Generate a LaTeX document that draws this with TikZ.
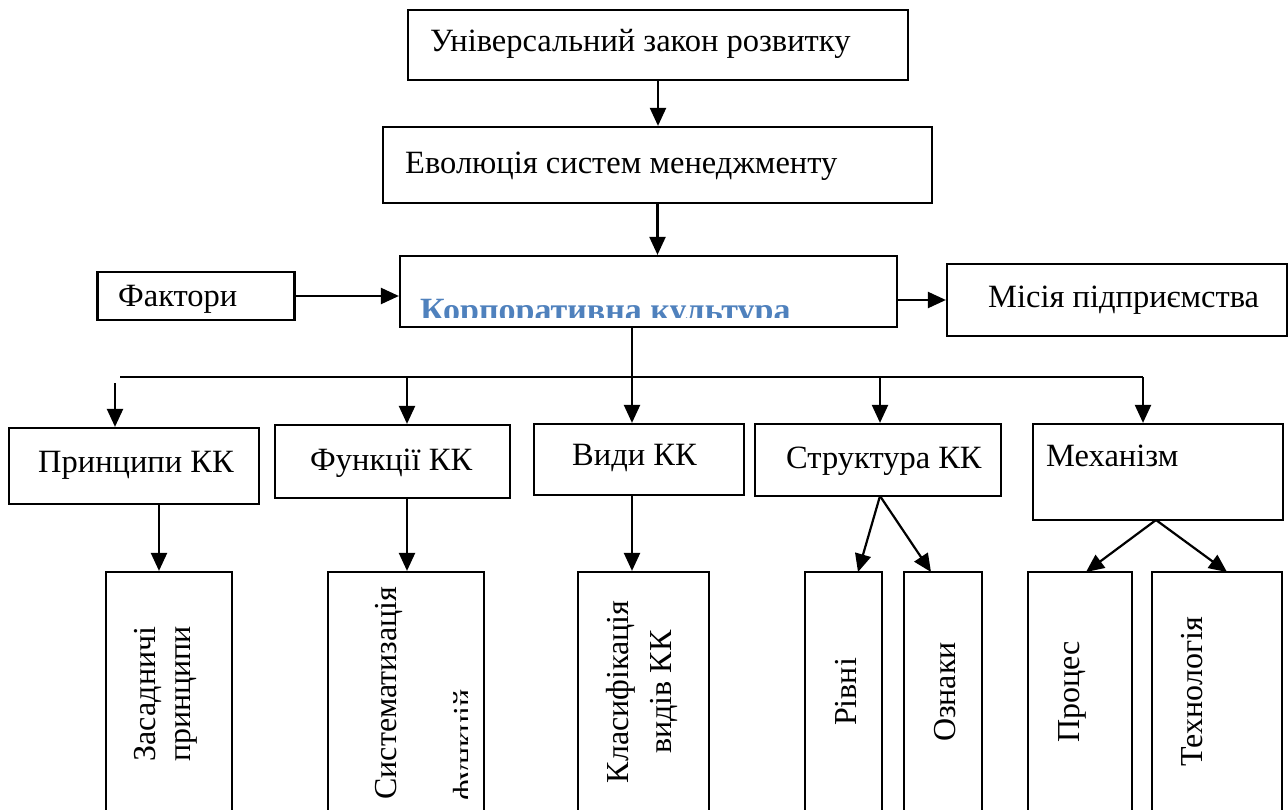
\documentclass[tikz,border=0pt]{standalone}
\usepackage{fontspec}
\setmainfont{Liberation Serif}
\usetikzlibrary{arrows.meta}
\definecolor{kkblue}{HTML}{4F81BD}
\tikzset{
  frame/.style={draw, line width=2.2pt, inner sep=0pt},
  lbl/.style={font=\fontsize{32.5}{38}\selectfont, inner sep=0pt, anchor=base west},
  vlbl/.style={font=\fontsize{32}{38}\selectfont, inner sep=0pt, rotate=90, anchor=base},
  arr/.style={line width=2.2pt, -{Triangle[length=18pt,width=16pt]}},
  wire/.style={line width=2.2pt},
}
\begin{document}
\begin{tikzpicture}[x=1pt,y=-1pt]
\useasboundingbox (0,0) rectangle (1288,810);
\clip (0,0) rectangle (1288,810);

% upper chain
\node[frame, minimum width=500pt, minimum height=70pt] (univ) at (658,45) {};
\node[frame, minimum width=549pt, minimum height=76pt] (evol) at (657.5,165) {};
\node[frame, minimum width=497pt, minimum height=71pt] (kk) at (648.5,291.5) {};
\node[frame, minimum width=197pt, minimum height=48pt] (fakt) at (196,296) {};
\node[frame, minimum width=340pt, minimum height=72pt] (misia) at (1117,300) {};

\node[lbl] (tuniv) at (430,52) {Універсальний закон розвитку};
\node[lbl] (tevol) at (405,174) {Еволюція систем менеджменту};
\node[lbl] (tfakt) at (118,307) {Фактори};
\node[lbl] (tmisia) at (988,308) {Місія підприємства};
\begin{scope}
  \clip (400,256) rectangle (897,318);
  \node[inner sep=0pt, anchor=base west, text=kkblue,
        font=\fontsize{34}{40}\selectfont\bfseries] (tkk) at (420,322) {Корпоративна культура};
\end{scope}

% second row
\node[frame, minimum width=250pt, minimum height=76pt] (prin) at (134,466) {};
\node[frame, minimum width=235pt, minimum height=73pt] (funk) at (392.5,461.5) {};
\node[frame, minimum width=210pt, minimum height=71pt] (vydy) at (639,459.5) {};
\node[frame, minimum width=246pt, minimum height=72pt] (strk) at (878,460) {};
\node[frame, minimum width=250pt, minimum height=96pt] (mech) at (1158,472) {};

\node[lbl] (tprin) at (38,472) {Принципи КК};
\node[lbl] (tfunk) at (310,470) {Функції КК};
\node[lbl] (tvydy) at (572,465) {Види КК};
\node[lbl] (tstrk) at (786,468) {Структура КК};
\node[lbl] (tmech) at (1046,466) {Механізм};

% bottom row (tall boxes running off the page)
\node[frame, minimum width=126pt, minimum height=268pt] (zas) at (169,706) {};
\node[frame, minimum width=156pt, minimum height=268pt] (sys) at (406,706) {};
\node[frame, minimum width=131pt, minimum height=268pt] (klas) at (643.5,706) {};
\node[frame, minimum width=77pt, minimum height=268pt] (rivn) at (843.5,706) {};
\node[frame, minimum width=78pt, minimum height=268pt] (ozn) at (943,706) {};
\node[frame, minimum width=104pt, minimum height=268pt] (proc) at (1080,706) {};
\node[frame, minimum width=130pt, minimum height=268pt] (tech) at (1217,706) {};

\node[vlbl] (tzas1) at (155,694) {Засадничі};
\node[vlbl] (tzas2) at (190,694) {принципи};
\node[vlbl] (tsys1) at (396,693) {Систематизація};
\begin{scope}
  \clip (330,574) rectangle (467,810);
  \node[vlbl, anchor=base west] (tsys2) at (475,801) {функцій};
\end{scope}
\node[vlbl] (tklas1) at (628,692) {Класифікація};
\node[vlbl] (tklas2) at (671,692) {видів КК};
\node[vlbl] (trivn) at (856,692) {Рівні};
\node[vlbl] (tozn) at (955,692) {Ознаки};
\node[vlbl] (tproc) at (1079,692) {Процес};
\node[vlbl] (ttech) at (1202,692) {Технологія};

% connectors
\coordinate (hub) at (632,377);
\coordinate (busL) at (120,377);
\coordinate (busR) at (1143,377);
\coordinate (d1) at (115,383);
\coordinate (d2) at (407,377);
\coordinate (d4) at (880,377);
\coordinate (p1) at (159,0);
\coordinate (s0) at (880,496);
\coordinate (s1) at (858,572);
\coordinate (s2) at (931,572);
\coordinate (m0) at (1156,520);
\coordinate (m1) at (1086,572);
\coordinate (m2) at (1227,572);

\draw[arr] (univ.south) -- (univ.south |- evol.north);
\draw[arr] (evol.south) -- (evol.south |- kk.north);
\draw[arr] (fakt.east) -- (kk.west |- fakt.east);
\draw[arr] (kk.east |- misia.west) -- (misia.west);

\draw[wire] (busL) -- (busR);
\draw[arr] (kk.south -| hub) -- (vydy.north -| hub);
\draw[arr] (d1) -- (d1 |- prin.north);
\draw[arr] (d2) -- (d2 |- funk.north);
\draw[arr] (d4) -- (d4 |- strk.north);
\draw[arr] (busR) -- (busR |- mech.north);

\draw[arr] (prin.south -| p1) -- (zas.north -| p1);
\draw[arr] (funk.south -| d2) -- (sys.north -| d2);
\draw[arr] (vydy.south -| hub) -- (klas.north -| hub);
\draw[arr] (s0) -- (s1);
\draw[arr] (s0) -- (s2);
\draw[arr] (m0) -- (m1);
\draw[arr] (m0) -- (m2);
\end{tikzpicture}
\end{document}
